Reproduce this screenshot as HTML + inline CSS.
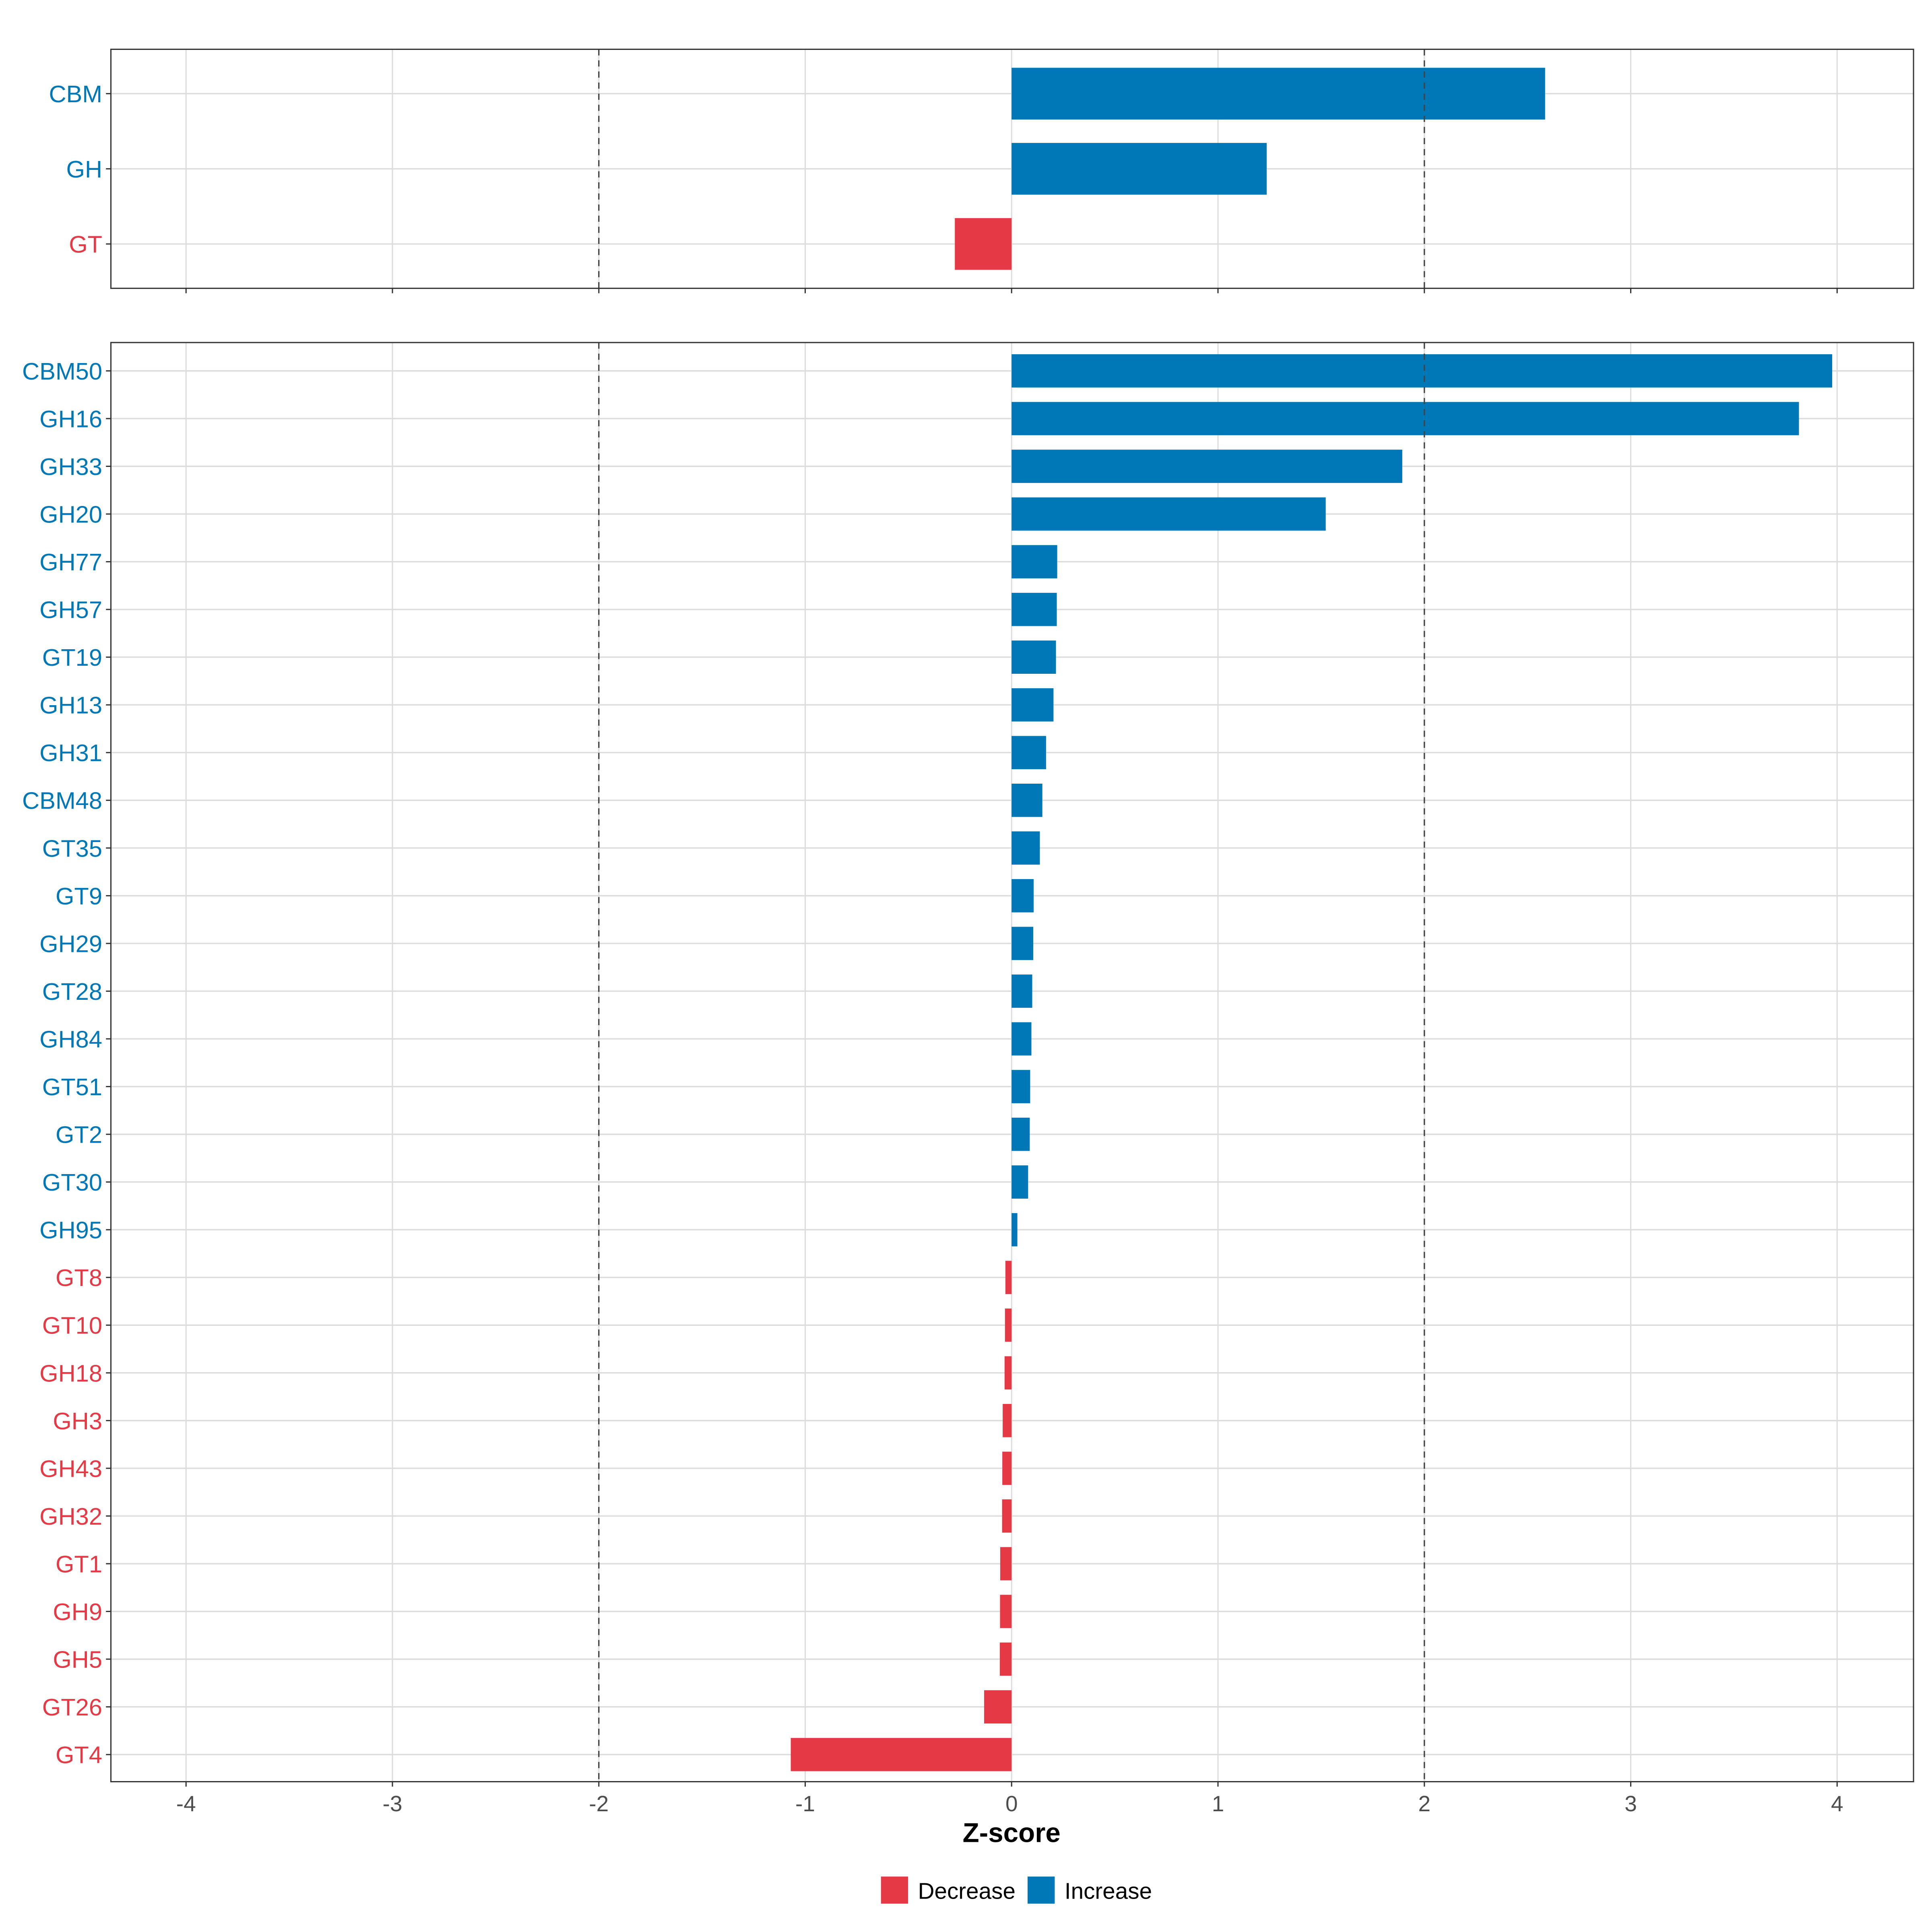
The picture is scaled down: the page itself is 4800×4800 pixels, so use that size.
<!DOCTYPE html>
<html><head><meta charset="utf-8"><style>html,body{margin:0;padding:0;background:#fff}svg{display:block}</style></head>
<body>
<svg id="chart" width="4800" height="4800" viewBox="0 0 1568 1568" xmlns="http://www.w3.org/2000/svg" font-family="Liberation Sans, sans-serif"></svg>
<script>
const topCats = ["CBM","GH","GT"];
const topVals = [2.585, 1.236, -0.275];
const botCats = ["CBM50","GH16","GH33","GH20","GH77","GH57","GT19","GH13","GH31","CBM48","GT35","GT9","GH29","GT28","GH84","GT51","GT2","GT30","GH95","GT8","GT10","GH18","GH3","GH43","GH32","GT1","GH9","GH5","GT26","GT4"];
const botVals = [3.976,3.815,1.893,1.522,0.221,0.219,0.215,0.203,0.167,0.149,0.137,0.107,0.105,0.100,0.096,0.090,0.088,0.080,0.028,-0.030,-0.032,-0.034,-0.043,-0.045,-0.046,-0.055,-0.056,-0.057,-0.133,-1.070];
const xTicks = [-4,-3,-2,-1,0,1,2,3,4];
const refLines = [-2,2];

const NS="http://www.w3.org/2000/svg";
const svg=document.getElementById('chart');
const BLUE="#0077B6", RED="#E63946";
const X0=90, X1=1553;
function xs(v){return 821+v*167.5;}
function mk(tag,attrs,parent){const e=document.createElementNS(NS,tag);for(const k in attrs)e.setAttribute(k,attrs[k]);(parent||svg).appendChild(e);return e;}

function panel(name,cats,vals,top,bottom,firstY,step,halfH){
  const g=mk('g',{});
  
  
  xTicks.forEach(t=>{mk('line',{x1:xs(t),x2:xs(t),y1:top,y2:bottom,stroke:'#dcdcdc','stroke-width':1},g);});
  cats.forEach((c,i)=>{const y=firstY+i*step;mk('line',{x1:X0,x2:X1,y1:y,y2:y,stroke:'#dcdcdc','stroke-width':1.1},g);});
  cats.forEach((c,i)=>{
    const y=firstY+i*step,v=vals[i];
    const r=mk('rect',{x:Math.min(xs(0),xs(v)),y:y-halfH,width:Math.abs(xs(v)-xs(0)),height:2*halfH,fill:v>=0?BLUE:RED},g);
    
    
    const t=mk('text',{x:83,y:y+7,'text-anchor':'end','font-size':19.5,fill:v>=0?BLUE:RED},g);
    t.textContent=c;
    
    
    mk('line',{x1:86,x2:90,y1:y,y2:y,stroke:'#333','stroke-width':1},g);
  });
  refLines.forEach(r=>{mk('line',{x1:xs(r),x2:xs(r),y1:top,y2:bottom,stroke:'#444','stroke-width':1.1,'stroke-dasharray':'5,4'},g);});
  mk('rect',{x:X0,y:top,width:X1-X0,height:bottom-top,fill:'none',stroke:'#333','stroke-width':1},g);
  xTicks.forEach(t=>{mk('line',{x1:xs(t),x2:xs(t),y1:bottom,y2:bottom+4,stroke:'#333','stroke-width':1},g);});
}
panel('top-panel',topCats,topVals,40,234,76,61,21);
panel('bottom-panel',botCats,botVals,278,1446,301,(1424-301)/29,13.5);

xTicks.forEach(t=>{
  const e=mk('text',{x:xs(t),y:1470,'text-anchor':'middle','font-size':18,fill:'#4d4d4d'});
  e.textContent=String(t);
  
  
});
const xt=mk('text',{x:821,y:1495,'text-anchor':'middle','font-size':22,'font-weight':'bold',fill:'#000'});
xt.textContent='Z-score';



const lg=mk('g',{});


mk('rect',{x:715,y:1523,width:22,height:22,fill:RED},lg);
const l1=mk('text',{x:745,y:1541,'font-size':18.5,fill:'#000'},lg);l1.textContent='Decrease';


mk('rect',{x:834,y:1523,width:22,height:22,fill:BLUE},lg);
const l2=mk('text',{x:864,y:1541,'font-size':18.5,fill:'#000'},lg);l2.textContent='Increase';


</script>
</body></html>
